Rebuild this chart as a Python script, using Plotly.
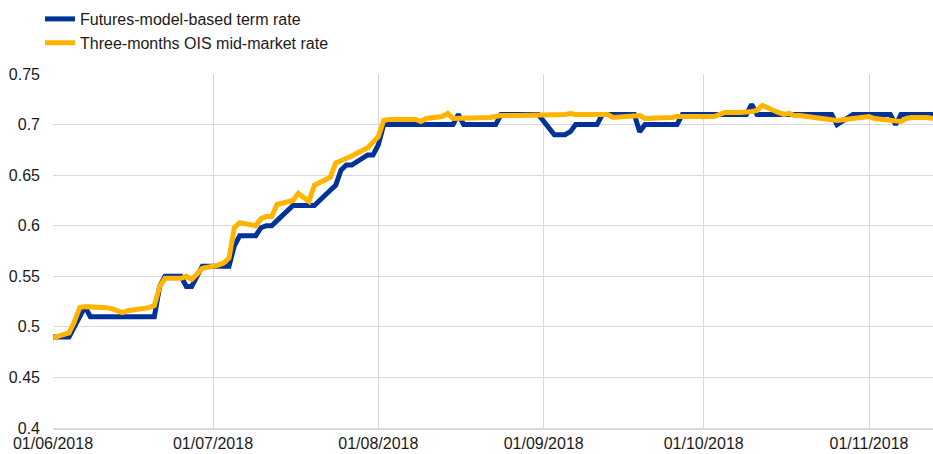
import pandas as pd
import plotly.graph_objects as go

# Business days from 01/06/2018 to 13/11/2018
dates = pd.bdate_range("2018-06-01", "2018-11-13")

# Futures-model-based term rate, by month
fut_jun = [0.49, 0.49, 0.50, 0.51, 0.52, 0.51, 0.51, 0.51, 0.51, 0.51, 0.51,
           0.51, 0.51, 0.51, 0.54, 0.55, 0.55, 0.54, 0.54, 0.55, 0.56]
fut_jul = [0.56, 0.56, 0.56, 0.58, 0.59, 0.59, 0.598, 0.60, 0.60, 0.605, 0.62,
           0.62, 0.62, 0.62, 0.62, 0.635, 0.64, 0.655, 0.66, 0.66, 0.67, 0.67]
fut_aug = [0.68, 0.70, 0.70, 0.70, 0.70, 0.70, 0.70, 0.70, 0.70, 0.70, 0.70,
           0.71, 0.70, 0.70, 0.70, 0.70, 0.70, 0.71, 0.71, 0.71, 0.71, 0.71, 0.71]
fut_sep = [0.69, 0.69, 0.69, 0.693, 0.70, 0.70, 0.70, 0.71, 0.71, 0.71,
           0.71, 0.71, 0.693, 0.70, 0.70, 0.70, 0.70, 0.70, 0.71, 0.71]
fut_oct = [0.71, 0.71, 0.71, 0.71, 0.71, 0.71, 0.71, 0.72, 0.71, 0.71, 0.71,
           0.71, 0.71, 0.71, 0.71, 0.71, 0.71, 0.71, 0.71, 0.70, 0.71, 0.71, 0.71]
fut_nov = [0.71, 0.71, 0.71, 0.70, 0.71, 0.71, 0.71, 0.71, 0.71]

# Three-months OIS mid-market rate, by month
ois_jun = [0.489, 0.494, 0.505, 0.519, 0.52, 0.52, 0.519, 0.518, 0.516, 0.514, 0.516,
           0.518, 0.519, 0.521, 0.54, 0.548, 0.548, 0.55, 0.547, 0.552, 0.558]
ois_jul = [0.561, 0.563, 0.568, 0.598, 0.603, 0.60, 0.607, 0.609, 0.609, 0.621, 0.625,
           0.632, 0.628, 0.624, 0.64, 0.648, 0.662, 0.664, 0.666, 0.669, 0.677, 0.683]
ois_aug = [0.688, 0.704, 0.705, 0.705, 0.705, 0.705, 0.703, 0.706, 0.708, 0.711, 0.706,
           0.706, 0.706, 0.707, 0.707, 0.707, 0.708, 0.709, 0.709, 0.709, 0.71, 0.71, 0.709]
ois_sep = [0.709, 0.709, 0.71, 0.711, 0.71, 0.71, 0.71, 0.71, 0.71, 0.707,
           0.708, 0.708, 0.709, 0.706, 0.706, 0.707, 0.707, 0.708, 0.708, 0.708]
ois_oct = [0.707, 0.707, 0.708, 0.71, 0.712, 0.712, 0.712, 0.713, 0.714, 0.719, 0.712,
           0.71, 0.711, 0.709, 0.709, 0.707, 0.707, 0.706, 0.705, 0.704, 0.706, 0.707, 0.708]
ois_nov = [0.708, 0.706, 0.704, 0.704, 0.703, 0.706, 0.707, 0.707, 0.706]

futures = fut_jun + fut_jul + fut_aug + fut_sep + fut_oct + fut_nov
ois = ois_jun + ois_jul + ois_aug + ois_sep + ois_oct + ois_nov
assert len(futures) == len(dates) == len(ois), (len(futures), len(ois), len(dates))

tick_vals = ["2018-06-01", "2018-07-01", "2018-08-01", "2018-09-01", "2018-10-01", "2018-11-01"]
tick_text = ["01/06/2018", "01/07/2018", "01/08/2018", "01/09/2018", "01/10/2018", "01/11/2018"]

BLUE = "#003299"
YELLOW = "#FFB400"
FONT = "Arial, Liberation Sans, sans-serif"

fig = go.Figure()
fig.add_trace(go.Scatter(x=dates, y=futures, mode="lines", name="Futures-model-based term rate",
                         line=dict(color=BLUE, width=5)))
fig.add_trace(go.Scatter(x=dates, y=ois, mode="lines", name="Three-months OIS mid-market rate",
                         line=dict(color=YELLOW, width=5)))

fig.update_layout(
    width=933, height=454,
    margin=dict(l=53, r=0, t=74, b=26, autoexpand=False),
    paper_bgcolor="white", plot_bgcolor="white",
    font=dict(family=FONT, size=16, color="#1a1a1a"),
    showlegend=True,
    legend=dict(xref="container", yref="container", x=40 / 933, y=1 - 2 / 454,
                xanchor="left", yanchor="top",
                orientation="v", bgcolor="rgba(0,0,0,0)", font=dict(size=16),
                tracegroupgap=0, itemwidth=30),
    xaxis=dict(type="date", range=["2018-06-01", "2018-11-13"],
               tickvals=tick_vals, ticktext=tick_text, automargin=False,
               showgrid=True, gridcolor="#d9d9d9", gridwidth=1,
               showline=True, linecolor="#d9d9d9", linewidth=2,
               ticks="", zeroline=False),
    yaxis=dict(range=[0.4, 0.75], dtick=0.05, tick0=0.4, automargin=False,
               showgrid=True, gridcolor="#d9d9d9", gridwidth=1,
               showline=False, ticks="", zeroline=False, ticklabelstandoff=12),
)

fig.write_html("out.html",
               config={"displayModeBar": False},
               post_script="document.body.style.margin='0';document.body.style.overflow='hidden';")
